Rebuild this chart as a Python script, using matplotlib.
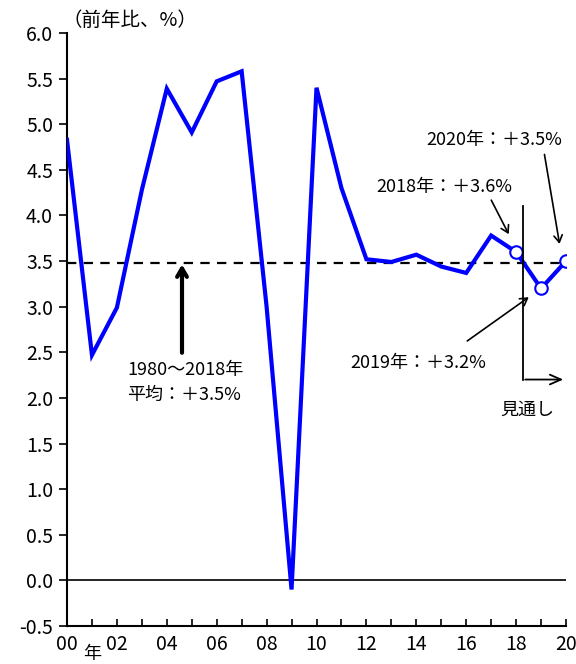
import matplotlib
matplotlib.use("Agg")
import matplotlib.pyplot as plt
import numpy as np

plt.rcParams['font.family'] = ['Noto Sans CJK JP', 'DejaVu Sans']

years = list(range(2000, 2021))
growth = [4.83, 2.47, 2.99, 4.28, 5.39, 4.91, 5.47, 5.58, 3.0, -0.1, 5.40, 4.30,
          3.52, 3.49, 3.57, 3.44, 3.37, 3.78, 3.6, 3.2, 3.5]
avg_value = 3.48
marker_years = [2018, 2019, 2020]
marker_values = [3.6, 3.2, 3.5]
yticks = [-0.5, 0.0, 0.5, 1.0, 1.5, 2.0, 2.5, 3.0, 3.5, 4.0, 4.5, 5.0, 5.5, 6.0]
xtick_years = list(range(2000, 2021, 2))
xtick_labels = ["00", "02", "04", "06", "08", "10", "12", "14", "16", "18", "20"]

fig = plt.figure(figsize=(5.76, 6.64), dpi=100)
ax = fig.add_axes([67/576, 1-626/664, (566-67)/576, (626-33)/664])

ax.plot(years, growth, color='#0000ff', lw=3, solid_joinstyle='miter', zorder=3)
ax.plot(marker_years, marker_values, 'o', ms=9, mfc='white', mec='#0000ff', mew=1.5, zorder=4)
ax.axhline(avg_value, color='black', lw=1.6, ls=(0, (4.2, 3.3)), zorder=2)
ax.axhline(0, color='black', lw=1.2, zorder=1)

ax.set_xlim(2000, 2020)
ax.set_ylim(-0.5, 6.0)
for s in ['top', 'right']:
    ax.spines[s].set_visible(False)
for s in ['left', 'bottom']:
    ax.spines[s].set_linewidth(1.5)

ax.set_yticks(yticks)
ax.set_yticklabels([f"{v:.1f}" for v in yticks], fontsize=14)
ax.set_xticks(xtick_years)
ax.set_xticklabels(xtick_labels, fontsize=14)
ax.set_xticks(years, minor=True)
ax.tick_params(axis='y', direction='out', length=6, width=1.2, pad=4)
ax.tick_params(axis='x', which='both', direction='in', length=5, width=1.2, pad=6)

fig.text(62/576, 1-20/664, "（前年比、%）", fontsize=14, va='center', ha='left')
fig.text(92/576, 1-654/664, "年", fontsize=13, va='center', ha='center')

def px(x, y):
    return (2000 + (x - 67) / 24.95, (581 - y) / 91.3)

fs = 13
# average annotation
ax.annotate("", xy=px(182, 262), xytext=px(182, 356),
            arrowprops=dict(arrowstyle='->,head_length=0.6,head_width=0.35', lw=3, color='black'))
ax.text(*px(127, 370), "1980～2018年", fontsize=fs, ha='left', va='center')
ax.text(*px(127, 395), "平均：＋3.5%", fontsize=fs, ha='left', va='center')

# 2018
ax.text(*px(376, 187), "2018年：＋3.6%", fontsize=fs, ha='left', va='center')
ax.annotate("", xy=px(510, 237), xytext=px(490, 198),
            arrowprops=dict(arrowstyle='->,head_length=0.5,head_width=0.3', lw=1.2, color='black'))
# 2020
ax.text(*px(426, 140), "2020年：＋3.5%", fontsize=fs, ha='left', va='center')
ax.annotate("", xy=px(560, 247), xytext=px(544, 152),
            arrowprops=dict(arrowstyle='->,head_length=0.5,head_width=0.3', lw=1.2, color='black'))
# 2019
ax.text(*px(350, 363), "2019年：＋3.2%", fontsize=fs, ha='left', va='center')
ax.annotate("", xy=px(531, 296), xytext=px(465, 343),
            arrowprops=dict(arrowstyle='->,head_length=0.5,head_width=0.3', lw=1.2, color='black'))

# forecast marker
x0, y0 = px(523, 206)
x1, y1 = px(523, 380)
ax.plot([x0, x1], [y0, y1], color='black', lw=1.3, zorder=5)
ax.annotate("", xy=px(566, 380), xytext=px(522.4, 380),
            arrowprops=dict(arrowstyle='->,head_length=0.8,head_width=0.35', lw=1.3, color='black'),
            annotation_clip=False)
ax.text(*px(500, 410), "見通し", fontsize=fs, ha='left', va='center')

fig.savefig("out.png", dpi=100)
